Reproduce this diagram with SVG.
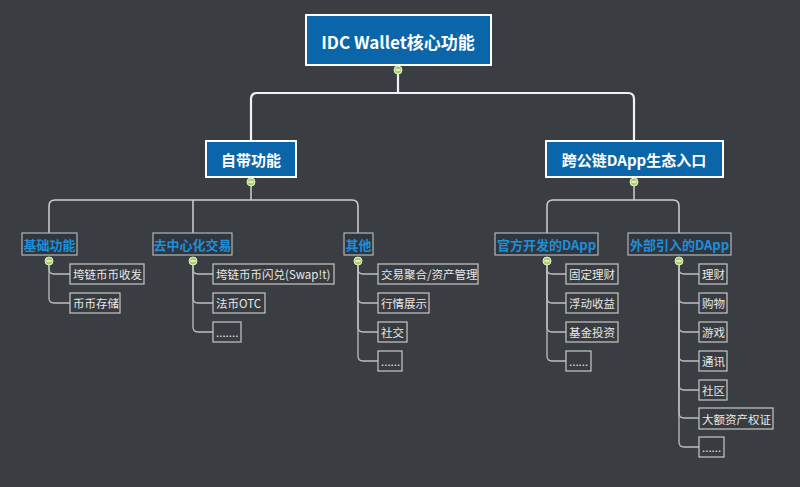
<svg xmlns="http://www.w3.org/2000/svg" width="800" height="487" viewBox="0 0 800 487">
<style>
text{font-family:"Noto Sans CJK SC","Noto Sans",sans-serif;dominant-baseline:central;text-anchor:middle}
.main rect{fill:#0a66a8;stroke:#ffffff;stroke-width:2}
.main text{fill:#ffffff;font-weight:bold}
.sub rect{fill:#2f3640;stroke:#b4b4b4;stroke-width:1.2}
.sub text{fill:#1e8fd8;font-weight:bold;font-size:13px}
.leaf rect{fill:#383b40;stroke:#c8c8c8;stroke-width:1.2}
.leaf text{fill:#e8e8e8;font-size:11.5px;text-anchor:start}
.c1{fill:none;stroke:#f2f2f2;stroke-width:2.2}
.c2{fill:none;stroke:#d0d0d0;stroke-width:1.5}
.c3{fill:none;stroke:#bdbdbd;stroke-width:1.3}
.tog circle{fill:#a9cf6a;stroke:#e6f0c8;stroke-width:1}
.tog line{stroke:#ffffff;stroke-width:1.2}
</style>
<rect width="800" height="487" fill="#3a3d42"/>
<g id="connectors">
<path class="c1" d="M398 74V93"/>
<path class="c1" d="M251 141V99Q251 93 257 93H628Q634 93 634 99V141"/>
<path class="c2" d="M251 186V200"/>
<path class="c2" d="M49 233V206Q49 200 55 200H352Q358 200 358 206V233"/>
<path class="c2" d="M193 200V233"/>
<path class="c2" d="M634 186V200"/>
<path class="c2" d="M547 233V206Q547 200 553 200H673Q679 200 679 206V233"/>
<g class="c3">
<path d="M49 265V269Q49 274 54 274H70"/>
<path d="M49 265V298Q49 303 54 303H70"/>
<path d="M193 265V269Q193 274 198 274H213"/>
<path d="M193 265V298Q193 303 198 303H213"/>
<path d="M193 265V327Q193 332 198 332H213"/>
<path d="M358 265V269Q358 274 363 274H378"/>
<path d="M358 265V298Q358 303 363 303H378"/>
<path d="M358 265V327Q358 332 363 332H378"/>
<path d="M358 265V356Q358 361 363 361H378"/>
<path d="M547 265V269Q547 274 552 274H566"/>
<path d="M547 265V298Q547 303 552 303H566"/>
<path d="M547 265V327Q547 332 552 332H566"/>
<path d="M547 265V356Q547 361 552 361H566"/>
<path d="M679 265V269Q679 274 684 274H699"/>
<path d="M679 265V298Q679 303 684 303H699"/>
<path d="M679 265V327Q679 332 684 332H699"/>
<path d="M679 265V356Q679 361 684 361H699"/>
<path d="M679 265V385Q679 390 684 390H699"/>
<path d="M679 265V413Q679 418 684 418H699"/>
<path d="M679 265V442Q679 447 684 447H699"/>
</g>
</g>
<g id="root" class="main"><rect x="306" y="15" width="185" height="50"/><text x="398" y="41" font-size="17">IDC Wallet核心功能</text></g>
<g id="n-zidai" class="main"><rect x="206" y="141" width="90" height="36"/><text x="251" y="159" font-size="15">自带功能</text></g>
<g id="n-kua" class="main"><rect x="546" y="141" width="177" height="36"/><text x="634" y="159" font-size="15">跨公链DApp生态入口</text></g>
<g id="n-jichu" class="sub"><rect x="22" y="233" width="55" height="22"/><text x="49.5" y="244">基础功能</text></g>
<g id="n-qzx" class="sub"><rect x="153" y="233" width="79" height="22"/><text x="192.5" y="244">去中心化交易</text></g>
<g id="n-qita" class="sub"><rect x="344" y="233" width="29" height="22"/><text x="358.5" y="244">其他</text></g>
<g id="n-guanfang" class="sub"><rect x="495" y="233" width="103" height="22"/><text x="546.5" y="244">官方开发的DApp</text></g>
<g id="n-waibu" class="sub"><rect x="628" y="233" width="103" height="22"/><text x="679.5" y="244">外部引入的DApp</text></g>
<g id="l1" class="leaf"><rect x="70" y="264" width="74" height="20"/><text x="73" y="274">垮链币币收发</text></g>
<g id="l2" class="leaf"><rect x="70" y="293" width="50" height="20"/><text x="73" y="303">币币存储</text></g>
<g id="l3" class="leaf"><rect x="213" y="264" width="121" height="20"/><text x="216" y="274">垮链币币闪兑(Swap!t)</text></g>
<g id="l4" class="leaf"><rect x="213" y="293" width="52" height="20"/><text x="216" y="303">法币OTC</text></g>
<g id="l5" class="leaf"><rect x="213" y="322" width="28" height="20"/><text x="216" y="332">.......</text></g>
<g id="l6" class="leaf"><rect x="378" y="264" width="100" height="20"/><text x="381" y="274">交易聚合/资产管理</text></g>
<g id="l7" class="leaf"><rect x="378" y="293" width="51" height="20"/><text x="381" y="303">行情展示</text></g>
<g id="l8" class="leaf"><rect x="378" y="322" width="29" height="20"/><text x="381" y="332">社交</text></g>
<g id="l9" class="leaf"><rect x="378" y="351" width="24" height="20"/><text x="381" y="361">......</text></g>
<g id="l10" class="leaf"><rect x="566" y="264" width="52" height="20"/><text x="569" y="274">固定理财</text></g>
<g id="l11" class="leaf"><rect x="566" y="293" width="52" height="20"/><text x="569" y="303">浮动收益</text></g>
<g id="l12" class="leaf"><rect x="566" y="322" width="52" height="20"/><text x="569" y="332">基金投资</text></g>
<g id="l13" class="leaf"><rect x="566" y="351" width="25" height="20"/><text x="569" y="361">......</text></g>
<g id="l14" class="leaf"><rect x="699" y="264" width="28" height="20"/><text x="702" y="274">理财</text></g>
<g id="l15" class="leaf"><rect x="699" y="293" width="28" height="20"/><text x="702" y="303">购物</text></g>
<g id="l16" class="leaf"><rect x="699" y="322" width="28" height="20"/><text x="702" y="332">游戏</text></g>
<g id="l17" class="leaf"><rect x="699" y="351" width="28" height="20"/><text x="702" y="361">通讯</text></g>
<g id="l18" class="leaf"><rect x="699" y="380" width="28" height="20"/><text x="702" y="390">社区</text></g>
<g id="l19" class="leaf"><rect x="699" y="408" width="74" height="21"/><text x="702" y="418.5">大额资产权证</text></g>
<g id="l20" class="leaf"><rect x="699" y="437" width="25" height="20"/><text x="702" y="447">......</text></g>
<g id="toggles" class="tog">
<g><circle cx="398" cy="70" r="4"/><line x1="395.5" y1="70" x2="400.5" y2="70"/></g>
<g><circle cx="251" cy="182" r="4"/><line x1="248.5" y1="182" x2="253.5" y2="182"/></g>
<g><circle cx="634" cy="182" r="4"/><line x1="631.5" y1="182" x2="636.5" y2="182"/></g>
<g><circle cx="49" cy="261" r="4"/><line x1="46.5" y1="261" x2="51.5" y2="261"/></g>
<g><circle cx="193" cy="261" r="4"/><line x1="190.5" y1="261" x2="195.5" y2="261"/></g>
<g><circle cx="358" cy="261" r="4"/><line x1="355.5" y1="261" x2="360.5" y2="261"/></g>
<g><circle cx="547" cy="261" r="4"/><line x1="544.5" y1="261" x2="549.5" y2="261"/></g>
<g><circle cx="679" cy="261" r="4"/><line x1="676.5" y1="261" x2="681.5" y2="261"/></g>
</g>
</svg>
